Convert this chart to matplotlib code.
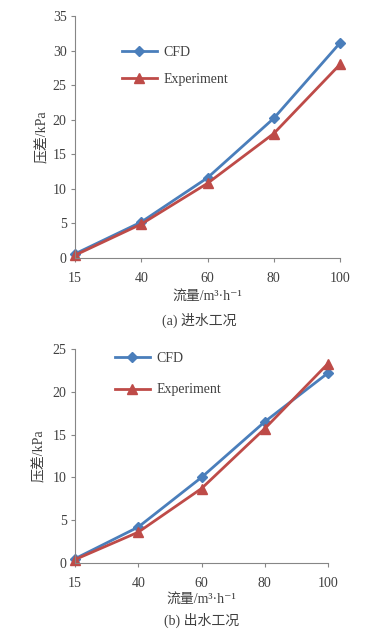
import matplotlib
matplotlib.use('Agg')
from matplotlib import pyplot as plt

plt.rcParams['font.family'] = ['Liberation Serif', 'Noto Sans CJK SC', 'DejaVu Serif']
plt.rcParams['font.size'] = 10

flow = ['15', '40', '60', '80', '100']

# (a) inlet condition
cfd_in = [0.6, 5.2, 11.6, 20.2, 31.1]
exp_in = [0.4, 4.9, 10.8, 18.0, 28.0]

# (b) outlet condition
cfd_out = [0.5, 4.2, 10.0, 16.5, 22.2]
exp_out = [0.4, 3.6, 8.7, 15.7, 23.3]

blue = '#4a7ebb'
red = '#be4b48'
grey = '#404040'
axis_grey = '#868686'

W, H = 389, 632
fig = plt.figure(figsize=(W / 100, H / 100), dpi=100)


def panel(rect, cfd, exp, ymax, ylab_x, leg_anchor, leg_space, xlab_y, cap_xy, caption):
    l, t, r, b = rect
    ax = fig.add_axes([l / W, 1 - b / H, (r - l) / W, (b - t) / H])
    x = range(len(flow))
    ax.plot(x, cfd, color=blue, lw=2.0, marker='D', ms=5.5, label='CFD')
    ax.plot(x, exp, color=red, lw=2.0, marker='^', ms=7, label='Experiment')
    ax.set_xlim(0, len(flow) - 1)
    ax.set_ylim(0, ymax)
    ax.set_xticks(list(x))
    ax.set_xticklabels(flow)
    ax.set_yticks(range(0, ymax + 1, 5))
    for s in ['top', 'right']:
        ax.spines[s].set_visible(False)
    for s in ['left', 'bottom']:
        ax.spines[s].set_color(axis_grey)
        ax.spines[s].set_linewidth(0.8)
    ax.tick_params(axis='x', direction='out', length=3, pad=7, colors=axis_grey, labelcolor=grey)
    ax.tick_params(axis='y', direction='out', length=3, pad=3, colors=axis_grey, labelcolor=grey)
    for p in ax.lines:
        p.set_clip_on(False)
    ax.set_ylabel('压差/kPa', color=grey)
    ax.yaxis.set_label_coords(ylab_x, 0.5)
    ax.legend(loc='upper left', bbox_to_anchor=leg_anchor, frameon=False,
              borderpad=0, handlelength=2.5, handletextpad=0.5,
              labelspacing=leg_space, labelcolor=grey)
    fig.text((l + r) / 2 / W, 1 - xlab_y / H, '流量/m³·h⁻¹', ha='center', va='center', color=grey)
    fig.text(cap_xy[0] / W, 1 - cap_xy[1] / H, caption, ha='center', va='center', color=grey)
    return ax


panel((75, 16, 340, 258), cfd_in, exp_in, 35, -0.10, (0.151, 0.905), 1.0, 296, (199, 320), '(a) 进水工况')
panel((75, 349, 328, 563), cfd_out, exp_out, 25, -0.113, (0.130, 1.02), 1.35, 599, (202, 620), '(b) 出水工况')

plt.savefig('out.png', dpi=100)
